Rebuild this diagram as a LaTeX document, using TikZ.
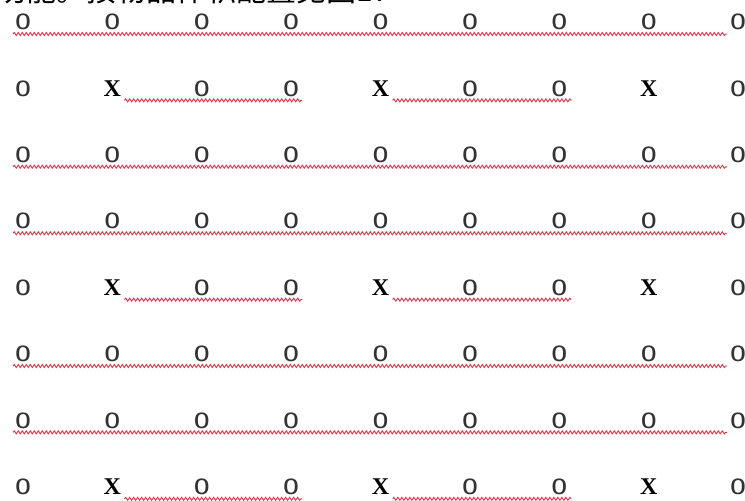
\documentclass[tikz,border=0pt]{standalone}
\usepackage{fontspec}
\usepackage{graphicx}
\usetikzlibrary{decorations.pathmorphing}
\newfontfamily\cnfont{Noto Sans CJK SC}
\newfontfamily\ofont{DejaVu Sans Mono}
\newfontfamily\xfont{Liberation Serif}
\definecolor{squigred}{RGB}{222,52,72}
\newcommand{\ochar}{\scalebox{1.3}[1]{O}}

\begin{document}
\begin{tikzpicture}[x=1pt, y=-1pt,
  och/.style={inner sep=0pt, font=\ofont\fontsize{21}{21}\selectfont, text=black!80},
  xch/.style={inner sep=0pt, font=\xfont\bfseries\fontsize{24}{24}\selectfont},
  captext/.style={inner sep=0pt, anchor=base west, font=\cnfont\fontsize{30}{30}\selectfont},
  squig/.style={draw=squigred, line width=0.9pt, decorate,
                decoration={snake, segment length=4pt, amplitude=1.5pt}}]

  \useasboundingbox (0,0) rectangle (745,501);
  \clip (0,0) rectangle (745,501);

  \node[captext] (caption) at (-4,1) {功能。按物品体积配置见图1：};

  % rows of O only
  \foreach \r/\y in {1/22, 3/154.8, 4/221.2, 6/354, 7/420.4} {
    \foreach \c in {1,...,9}
      \node[och] (n-\r-\c) at ({23+89.4*(\c-1)},\y) {\ochar};
    \draw[squig] ([xshift=-10pt,yshift=-12pt]n-\r-1.center)
      -- ([xshift=-11pt,yshift=-12pt]n-\r-9.center);
  }

  % rows with X
  \foreach \r/\y in {2/88.4, 5/287.6, 8/486.8} {
    \foreach \c in {1,3,4,6,7,9}
      \node[och] (n-\r-\c) at ({23+89.4*(\c-1)},\y) {\ochar};
    \foreach \c in {2,5,8}
      \node[xch] (n-\r-\c) at ({23+89.4*(\c-1)},\y) {X};
    \draw[squig] ([xshift=12pt,yshift=-12pt]n-\r-2.center)
      -- ([xshift=11pt,yshift=-12pt]n-\r-4.center);
    \draw[squig] ([xshift=12pt,yshift=-12pt]n-\r-5.center)
      -- ([xshift=12pt,yshift=-12pt]n-\r-7.center);
  }

\end{tikzpicture}
\end{document}
